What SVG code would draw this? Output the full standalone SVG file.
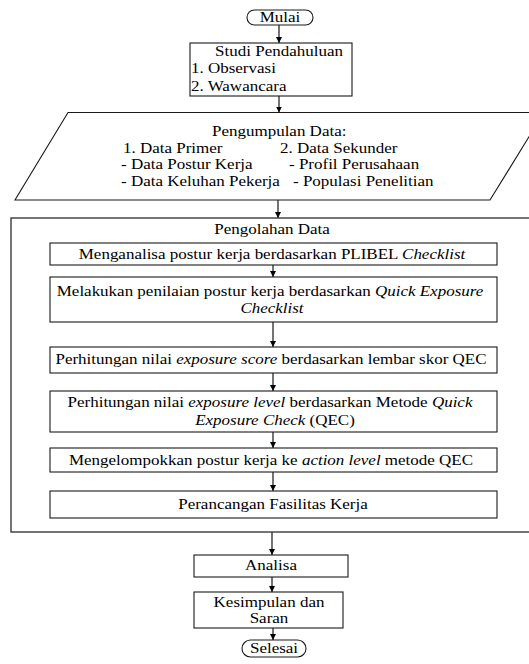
<svg xmlns="http://www.w3.org/2000/svg" width="529" height="664" viewBox="0 0 529 664">
<style>
.t{font-family:"Liberation Serif","Times New Roman",serif;font-size:17px;fill:#000}
.m{text-anchor:middle}
.b{fill:#fff;stroke:#1a1a1a;stroke-width:1.1}
.o{fill:none;stroke:#3a3a3a;stroke-width:1.4}
.c{stroke:#000;stroke-width:1.1;fill:none;marker-end:url(#ah)}
.i{font-style:italic}
</style>
<defs>
<marker id="ah" markerUnits="userSpaceOnUse" markerWidth="7" markerHeight="7" refX="6" refY="3" orient="auto">
<path d="M0,0 L6,3 L0,6 z" fill="#000"/>
</marker>
</defs>
<rect width="529" height="664" fill="#fff"/>

<g id="connectors">
<line class="c" x1="279" y1="25" x2="279" y2="43"/>
<line class="c" x1="279" y1="96" x2="279" y2="112.5"/>
<line class="c" x1="278" y1="200" x2="278" y2="218"/>
<line class="c" x1="273" y1="265" x2="273" y2="277"/>
<line class="c" x1="273" y1="322" x2="273" y2="347"/>
<line class="c" x1="273" y1="373" x2="273" y2="391"/>
<line class="c" x1="273" y1="432" x2="273" y2="448"/>
<line class="c" x1="273" y1="472" x2="273" y2="491"/>
<line class="c" x1="272" y1="532" x2="272" y2="555"/>
<line class="c" x1="272" y1="577" x2="272" y2="592"/>
<line class="c" x1="273" y1="628" x2="273" y2="640"/>
</g>

<g id="mulai">
<rect class="b" x="247" y="10" width="66" height="15" rx="7.5"/>
<text class="t m" transform="translate(280,21.5) scale(1,0.8)">Mulai</text>
</g>

<g id="studi">
<rect class="b" x="190" y="43" width="162" height="53"/>
<text class="t m" transform="translate(279,56) scale(1,0.8)">Studi Pendahuluan</text>
<text class="t" transform="translate(191,73) scale(1,0.8)">1. Observasi</text>
<text class="t" transform="translate(191,91) scale(1,0.8)">2. Wawancara</text>
</g>

<g id="pengumpulan">
<polygon class="b" points="68,112.5 544,112.5 490,200 15,200"/>
<text class="t" transform="translate(212,136) scale(1,0.8)">Pengumpulan Data:</text>
<text class="t" transform="translate(123,153) scale(1,0.8)">1. Data Primer</text>
<text class="t" transform="translate(280,153) scale(1,0.8)">2. Data Sekunder</text>
<text class="t" transform="translate(121,169) scale(1,0.8)">- Data Postur Kerja</text>
<text class="t" transform="translate(289,169) scale(1,0.8)">- Profil Perusahaan</text>
<text class="t" transform="translate(121,186) scale(1,0.8)">- Data Keluhan Pekerja</text>
<text class="t" transform="translate(293,186) scale(1,0.8)">- Populasi Penelitian</text>
</g>

<g id="pengolahan">
<rect class="o" x="11" y="218" width="530" height="314"/>
<text class="t m" transform="translate(272,234) scale(1,0.8)">Pengolahan Data</text>
</g>

<g id="step1">
<rect class="b" x="50" y="243" width="447" height="22"/>
<text class="t m" transform="translate(272,259) scale(1,0.8)">Menganalisa postur kerja berdasarkan PLIBEL <tspan class="i">Checklist</tspan></text>
</g>

<g id="step2">
<rect class="b" x="50" y="277" width="447" height="45"/>
<text class="t m" transform="translate(270,296) scale(1,0.8)">Melakukan penilaian postur kerja berdasarkan <tspan class="i">Quick Exposure</tspan></text>
<text class="t m i" transform="translate(272,313) scale(1,0.8)">Checklist</text>
</g>

<g id="step3">
<rect class="b" x="50" y="347" width="447" height="26"/>
<text class="t m" transform="translate(271,364) scale(1,0.8)">Perhitungan nilai <tspan class="i">exposure score</tspan> berdasarkan lembar skor QEC</text>
</g>

<g id="step4">
<rect class="b" x="50" y="391" width="447" height="41"/>
<text class="t m" transform="translate(270,407) scale(1,0.8)">Perhitungan nilai <tspan class="i">exposure level</tspan> berdasarkan Metode <tspan class="i">Quick</tspan></text>
<text class="t m" transform="translate(275,425) scale(1,0.8)"><tspan class="i">Exposure Check</tspan> (QEC)</text>
</g>

<g id="step5">
<rect class="b" x="50" y="448" width="447" height="24"/>
<text class="t m" transform="translate(271,465) scale(1,0.8)">Mengelompokkan postur kerja ke <tspan class="i">action level</tspan> metode QEC</text>
</g>

<g id="step6">
<rect class="b" x="50" y="491" width="447" height="27"/>
<text class="t m" transform="translate(273,509) scale(1,0.8)">Perancangan Fasilitas Kerja</text>
</g>

<g id="analisa">
<rect class="b" x="194" y="555" width="154" height="22"/>
<text class="t m" transform="translate(271,570) scale(1,0.8)">Analisa</text>
</g>

<g id="kesimpulan">
<rect class="b" x="194" y="592" width="149" height="36"/>
<text class="t m" transform="translate(269,607) scale(1,0.8)">Kesimpulan dan</text>
<text class="t m" transform="translate(269,623) scale(1,0.8)">Saran</text>
</g>

<g id="selesai">
<rect class="b" x="242" y="640" width="64" height="17" rx="8.5"/>
<text class="t m" transform="translate(274,653) scale(1,0.8)">Selesai</text>
</g>
</svg>
